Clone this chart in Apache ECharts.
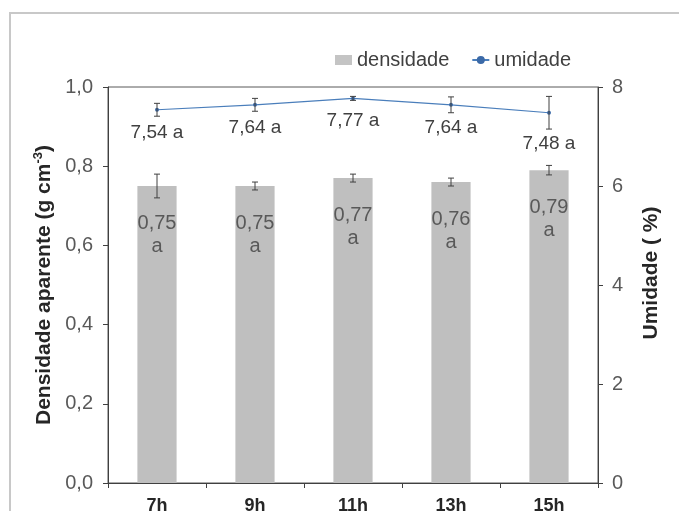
<!DOCTYPE html>
<html>
<head>
<meta charset="utf-8">
<script src="https://cdn.jsdelivr.net/npm/echarts@6/dist/echarts.min.js"></script>
<style>
  html, body { margin: 0; padding: 0; background: #ffffff; }
  #chart { width: 679px; height: 511px; }
</style>
</head>
<body>
<div id="chart"></div>
<script>
// Horários de coleta
var categories = ['7h', '9h', '11h', '13h', '15h'];
// Densidade aparente (g cm-3) e desvio
var densidade = [0.75, 0.75, 0.77, 0.76, 0.79];
var densidadeErro = [0.03, 0.01, 0.01, 0.01, 0.012];
// Umidade (%) e desvio
var umidade = [7.54, 7.64, 7.77, 7.64, 7.48];
var umidadeErro = [0.13, 0.13, 0.04, 0.16, 0.33];
// Letras do teste de médias
var letrasDensidade = ['a', 'a', 'a', 'a', 'a'];
var letrasUmidade = ['a', 'a', 'a', 'a', 'a'];

var FONT = '"Liberation Sans", Arial, sans-serif';
var virgula = function (v, d) { return v.toFixed(d).replace('.', ','); };

function erroItem(erros) {
  return function (params, api) {
    var x = api.value(0);
    var y = api.value(1);
    var e = erros[params.dataIndex];
    var top = api.coord([x, y + e]);
    var bot = api.coord([x, y - e]);
    var cap = 3;
    var st = { stroke: '#404040', lineWidth: 1 };
    return {
      type: 'group',
      children: [
        { type: 'line', shape: { x1: top[0], y1: top[1], x2: bot[0], y2: bot[1] }, style: st },
        { type: 'line', shape: { x1: top[0] - cap, y1: top[1], x2: top[0] + cap, y2: top[1] }, style: st },
        { type: 'line', shape: { x1: bot[0] - cap, y1: bot[1], x2: bot[0] + cap, y2: bot[1] }, style: st }
      ]
    };
  };
}

// O rótulo de 15h fica um pouco abaixo da barra de erro
var umidadeDados = umidade.map(function (v, i) {
  return i === 4 ? { value: v, label: { offset: [0, 9] } } : v;
});

var chart = echarts.init(document.getElementById('chart'));
chart.setOption({
  animation: false,
  textStyle: { fontFamily: FONT },
  graphic: [{
    type: 'rect',
    shape: { x: 10, y: 13, width: 690, height: 530 },
    style: { fill: 'none', stroke: '#c8c8c8', lineWidth: 2 },
    silent: true, z: -10
  }],
  legend: {
    left: 330, top: 45,
    itemGap: 22,
    itemWidth: 17, itemHeight: 10,
    textStyle: { fontSize: 20, color: '#404040', fontFamily: FONT },
    data: [
      { name: 'densidade', icon: 'rect', itemStyle: { color: '#c4c4c4' } },
      { name: 'umidade' }
    ]
  },
  grid: {
    left: 108, right: 81, top: 87, bottom: 28,
    outerBoundsMode: 'none',
    containLabel: false,
    show: true, borderColor: '#595959', borderWidth: 1
  },
  xAxis: {
    type: 'category',
    data: categories,
    axisLine: { lineStyle: { color: '#404040' } },
    axisTick: { show: true, length: 5, lineStyle: { color: '#404040' } },
    axisLabel: { fontSize: 18, fontWeight: 'bold', color: '#262626', margin: 14, fontFamily: FONT }
  },
  yAxis: [{
    type: 'value',
    min: 0, max: 1, interval: 0.2,
    name: '{t|Densidade aparente (g cm}{s|-3}{t|)}',
    nameLocation: 'middle',
    nameGap: 51,
    nameRotate: 90,
    nameTextStyle: {
      rich: {
        t: { fontSize: 21, fontWeight: 'bold', color: '#262626', fontFamily: FONT },
        s: { fontSize: 13, fontWeight: 'bold', color: '#262626', verticalAlign: 'top', padding: [0, 0, 10, 0], fontFamily: FONT }
      }
    },
    splitLine: { show: false },
    axisLine: { show: true, lineStyle: { color: '#404040' } },
    axisTick: { show: true, length: 5, lineStyle: { color: '#404040' } },
    axisLabel: { fontSize: 20, color: '#595959', margin: 15, fontFamily: FONT,
      formatter: function (v) { return virgula(v, 1); } }
  }, {
    type: 'value',
    min: 0, max: 8, interval: 2,
    name: 'Umidade ( %)',
    nameLocation: 'middle',
    nameGap: 43,
    nameRotate: 90,
    nameTextStyle: { fontSize: 21, fontWeight: 'bold', color: '#262626', fontFamily: FONT, padding: [0, 0, 0, 24] },
    splitLine: { show: false },
    axisLine: { show: true, lineStyle: { color: '#404040' } },
    axisTick: { show: true, length: 5, lineStyle: { color: '#404040' } },
    axisLabel: { fontSize: 20, color: '#595959', margin: 14, fontFamily: FONT }
  }],
  series: [{
    name: 'densidade',
    type: 'bar',
    yAxisIndex: 0,
    barWidth: '40%',
    data: densidade,
    itemStyle: { color: '#bfbfbf' },
    label: {
      show: true,
      position: 'insideTop',
      distance: 26,
      fontSize: 20,
      lineHeight: 23,
      color: '#595959',
      fontFamily: FONT,
      formatter: function (p) { return virgula(p.value, 2) + '\n' + letrasDensidade[p.dataIndex]; }
    },
    z: 2
  }, {
    name: 'densidadeErro',
    type: 'custom',
    yAxisIndex: 0,
    data: densidade.map(function (v, i) { return [i, v]; }),
    renderItem: erroItem(densidadeErro),
    z: 5
  }, {
    name: 'umidade',
    type: 'line',
    yAxisIndex: 1,
    data: umidadeDados,
    symbol: 'circle',
    symbolSize: 4,
    lineStyle: { color: '#4a7ebb', width: 1.2 },
    itemStyle: { color: '#3b6aa8' },
    label: {
      show: true,
      position: 'bottom',
      distance: 11,
      fontSize: 19,
      color: '#404040',
      fontFamily: FONT,
      formatter: function (p) { return virgula(p.value, 2) + ' ' + letrasUmidade[p.dataIndex]; }
    },
    z: 4
  }, {
    name: 'umidadeErro',
    type: 'custom',
    yAxisIndex: 1,
    data: umidade.map(function (v, i) { return [i, v]; }),
    renderItem: erroItem(umidadeErro),
    z: 5
  }]
});
</script>
</body>
</html>
